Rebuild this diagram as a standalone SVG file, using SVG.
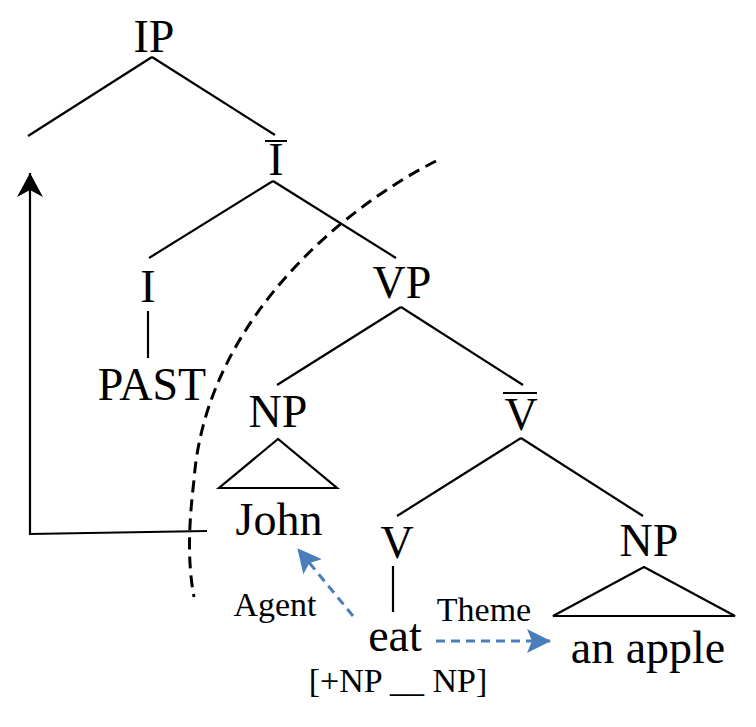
<svg xmlns="http://www.w3.org/2000/svg" width="756" height="727" viewBox="0 0 756 727">
  <style>
    .t { font-family: "Liberation Serif", "Times New Roman", serif; font-size: 46px; fill: #000; text-anchor: middle; }
    .s { font-family: "Liberation Serif", "Times New Roman", serif; font-size: 34px; fill: #000; text-anchor: middle; }
    .e { stroke: #000; stroke-width: 2.2; fill: none; stroke-linecap: butt; }
    .tri { stroke: #000; stroke-width: 2.2; fill: none; stroke-linejoin: miter; }
    .bar { stroke: #000; stroke-width: 2; }
    .blue { stroke: #4a7ebb; stroke-width: 3; fill: none; stroke-dasharray: 9 6; }
    .curve { stroke: #000; stroke-width: 3; fill: none; stroke-dasharray: 12 7; }
  </style>
  <defs>
    <marker id="bh" markerUnits="userSpaceOnUse" viewBox="0 0 24 24" refX="23" refY="12" markerWidth="24" markerHeight="24" orient="auto">
      <path d="M0,0 L24,12 L0,24 L5,12 z" fill="#4a7ebb"/>
    </marker>
    <marker id="kh" markerUnits="userSpaceOnUse" viewBox="0 0 24 26" refX="24" refY="13" markerWidth="24" markerHeight="26" orient="auto">
      <path d="M0,0 L24,13 L0,26 L7,13 z" fill="#000"/>
    </marker>
  </defs>

  <rect width="756" height="727" fill="#fff"/>

  <g id="connectors">
    <line class="e" x1="152" y1="57" x2="28" y2="136"/>
    <line class="e" x1="152" y1="57" x2="275" y2="135"/>
    <line class="e" x1="273" y1="181" x2="149" y2="258"/>
    <line class="e" x1="273" y1="181" x2="396" y2="258"/>
    <line class="e" x1="148" y1="311" x2="148" y2="358"/>
    <line class="e" x1="401" y1="307" x2="277" y2="385"/>
    <line class="e" x1="401" y1="307" x2="523" y2="385"/>
    <line class="e" x1="521" y1="438" x2="397" y2="516"/>
    <line class="e" x1="521" y1="438" x2="643" y2="516"/>
    <line class="e" x1="393" y1="566" x2="393" y2="612"/>
    <path class="curve" d="M436,161 C330,215 205,330 194,480 C188,530 188,565 194,597"/>
    <path class="e" d="M207,531 L30,534 L30,173" marker-end="url(#kh)"/>
    <line class="blue" x1="353" y1="616" x2="298" y2="549" marker-end="url(#bh)"/>
    <line class="blue" x1="436" y1="641" x2="550" y2="641" marker-end="url(#bh)"/>
  </g>

  <g id="node-IP"><text class="t" x="154" y="52">IP</text></g>
  <g id="node-Ibar">
    <line class="bar" x1="265" y1="141" x2="287" y2="141"/>
    <text class="t" x="276" y="175">I</text>
  </g>
  <g id="node-I"><text class="t" x="148" y="302">I</text></g>
  <g id="node-PAST"><text class="t" x="152" y="400">PAST</text></g>
  <g id="node-VP"><text class="t" x="402" y="298">VP</text></g>
  <g id="node-NP-John">
    <text class="t" x="278" y="427">NP</text>
    <polygon class="tri" points="278,439 219,488 337,488"/>
  </g>
  <g id="node-John"><text class="t" x="279" y="535">John</text></g>
  <g id="node-Vbar">
    <line class="bar" x1="503" y1="393" x2="537" y2="393"/>
    <text class="t" x="521" y="430">V</text>
  </g>
  <g id="node-V"><text class="t" x="397" y="558">V</text></g>
  <g id="node-eat"><text class="t" x="395" y="651">eat</text></g>
  <g id="node-subcat"><text class="s" x="398" y="692">[+NP __ NP]</text></g>
  <g id="node-NP-apple">
    <text class="t" x="649" y="556">NP</text>
    <polygon class="tri" points="644,567 553,616 735,616"/>
  </g>
  <g id="node-apple"><text class="t" x="648" y="663">an apple</text></g>
  <g id="label-agent"><text class="s" x="275" y="616">Agent</text></g>
  <g id="label-theme"><text class="s" x="484" y="621">Theme</text></g>
</svg>
